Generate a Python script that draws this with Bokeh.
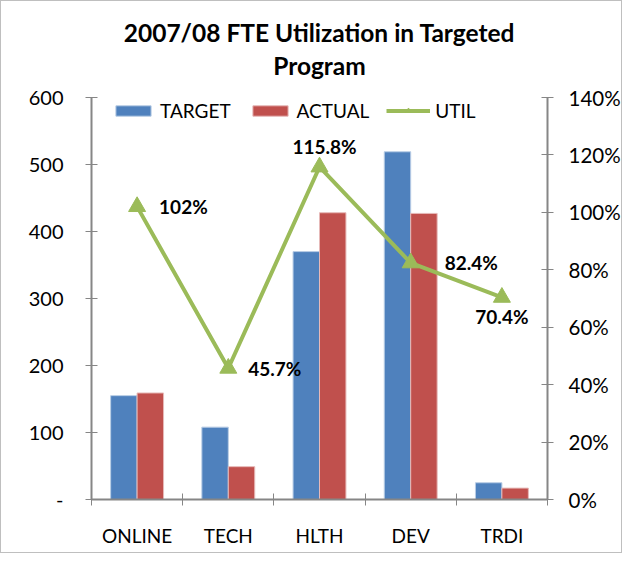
from bokeh.plotting import figure
from bokeh.models import (ColumnDataSource, LinearAxis, Range1d, FixedTicker, Title,
                          Legend, LegendItem, LabelSet, NumeralTickFormatter)
from bokeh.core.properties import value
from bokeh.embed import file_html
from bokeh.resources import INLINE

categories = ["ONLINE", "TECH", "HLTH", "DEV", "TRDI"]
target = [155, 108, 370, 519, 25]
actual = [159, 49, 428, 427, 17]
util = [102, 45.7, 115.8, 82.4, 70.4]
left_ticks = [0, 100, 200, 300, 400, 500, 600]
right_ticks = [0, 0.2, 0.4, 0.6, 0.8, 1.0, 1.2, 1.4]
title_lines = ["2007/08 FTE Utilization in Targeted", "Program"]

FONT = "Lato"
BLUE = "#4F81BD"
RED = "#C0504D"
GREEN = "#9BBB59"
AXIS = "#868686"

idx = list(range(len(categories)))
centers = [i + 0.5 for i in idx]
bw = 0.29
src = ColumnDataSource(dict(
    cat=categories,
    xt=[c - bw / 2 for c in centers],
    xa=[c + bw / 2 for c in centers],
    xc=centers,
    target=target,
    actual=actual,
    util=[u / 100 for u in util],
    lab=[f"{u:g}%" for u in util],
    xo=[22, 20, 5, 34, 0],
    yo=[0, 0, 20, 0, -19],
    al=["left", "left", "center", "left", "center"],
))

p = figure(width=622, height=553, output_backend="svg", toolbar_location=None,
           x_range=Range1d(0, 5), y_range=Range1d(0, 600),
           min_border_left=90, min_border_right=65, min_border_bottom=55, min_border_top=96)
p.styles = {"border": "1px solid #BFBFBF"}
p.outline_line_color = None
p.grid.grid_line_color = None
p.background_fill_color = "white"
p.extra_y_ranges = {"pct": Range1d(0, 1.4)}

# axes
p.xaxis.ticker = FixedTicker(ticks=centers, minor_ticks=[0, 1, 2, 3, 4, 5])
p.xaxis.major_label_overrides = {c: n for c, n in zip(centers, categories)}
p.xaxis.major_tick_in = 0
p.xaxis.major_tick_out = 0
p.xaxis.minor_tick_in = 6
p.xaxis.minor_tick_out = 6
p.xaxis.minor_tick_line_color = AXIS
p.xaxis.axis_line_color = AXIS
p.xaxis.axis_line_width = 2
p.xaxis.major_label_standoff = 18
p.xaxis.major_label_text_font = FONT
p.xaxis.major_label_text_font_size = "19px"
p.xaxis.major_label_text_color = "black"

p.yaxis.ticker = FixedTicker(ticks=left_ticks)
p.yaxis.major_label_overrides = {0: "-"}
p.yaxis.minor_tick_line_color = None
p.yaxis.major_tick_in = 6
p.yaxis.major_tick_out = 6
p.yaxis.major_tick_line_color = AXIS
p.yaxis.axis_line_color = AXIS
p.yaxis.axis_line_width = 2
p.yaxis.major_label_standoff = 22
p.yaxis.major_label_text_font = FONT
p.yaxis.major_label_text_font_size = "20px"
p.yaxis.major_label_text_color = "black"

ra = LinearAxis(y_range_name="pct", ticker=FixedTicker(ticks=right_ticks),
                formatter=NumeralTickFormatter(format="0%"))
ra.minor_tick_line_color = None
ra.major_tick_in = 6
ra.major_tick_out = 6
ra.major_tick_line_color = AXIS
ra.axis_line_color = AXIS
ra.axis_line_width = 2
ra.major_label_standoff = 15
ra.major_label_text_font = FONT
ra.major_label_text_font_size = "20.5px"
ra.major_label_text_color = "black"
p.add_layout(ra, "right")

# title (two lines): the first one added sits nearest the frame
for txt, so in zip(reversed(title_lines), [36, -32]):
    p.add_layout(Title(text=txt, align="center", text_font=FONT, text_font_size="24.5px",
                       text_font_style="bold", text_color="black", standoff=so), "above")

# bars
rt = p.vbar(x="xt", top="target", width=bw, source=src, fill_color=BLUE, line_color="#B9CDE5", line_width=1)
rac = p.vbar(x="xa", top="actual", width=bw, source=src, fill_color=RED, line_color="#E6B9B8", line_width=1)

# line
ln = p.line(x="xc", y="util", source=src, y_range_name="pct", line_color=GREEN, line_width=4)
mk = p.scatter(x="xc", y="util", source=src, y_range_name="pct", marker="triangle", size=17,
               fill_color=GREEN, line_color=GREEN)

labels = LabelSet(x="xc", y="util", text="lab", source=src, y_range_name="pct",
                  x_offset="xo", y_offset="yo", text_align="al", text_baseline="middle",
                  text_font=value(FONT), text_font_size="19px", text_font_style="bold",
                  text_color="black")
p.add_layout(labels)

legend = Legend(items=[LegendItem(label="TARGET", renderers=[rt]),
                       LegendItem(label="ACTUAL", renderers=[rac]),
                       LegendItem(label="UTIL", renderers=[ln, mk])],
                orientation="horizontal", location=(20, 377), margin=0, padding=4,
                spacing=17, glyph_width=44, glyph_height=13, label_standoff=5,
                label_height=24, label_text_font=FONT, label_text_font_size="19px",
                label_text_color="black",
                border_line_color=None, background_fill_alpha=0)
p.add_layout(legend)

open("out.html", "w").write(file_html(p, INLINE))
